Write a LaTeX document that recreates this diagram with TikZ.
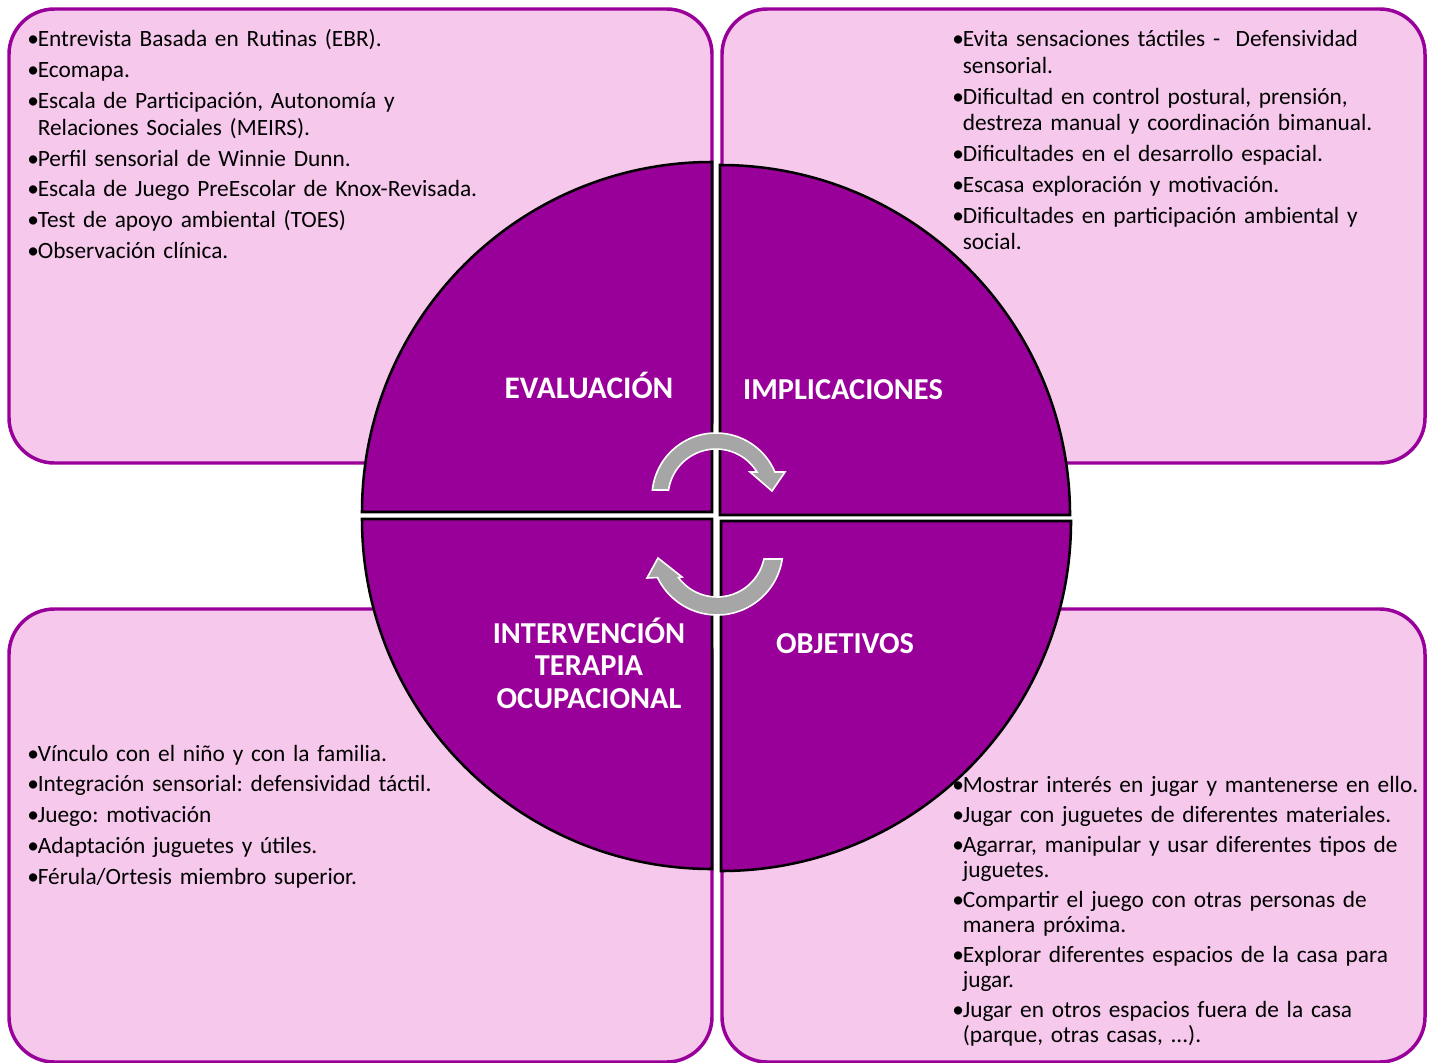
\documentclass[tikz,border=0pt]{standalone}
\usepackage{fontspec}
\setmainfont{Carlito}
\definecolor{qpurple}{RGB}{153,0,153}
\definecolor{boxpink}{RGB}{245,200,236}
\definecolor{arrowgray}{RGB}{166,166,166}
\newcommand{\bodyfont}{\fontsize{17.5}{19.7}\selectfont\frenchspacing\setlength{\parskip}{3.5pt}\raggedright}
\newcommand{\tightfont}{\fontsize{17.5}{18.75}\selectfont\frenchspacing\setlength{\parskip}{3.75pt}\raggedright}
\newcommand{\labelfont}{\fontsize{22.8}{25}\selectfont\bfseries}
\newcommand{\bitem}[1]{\par\noindent\hangindent=7.9pt\hangafter=1\makebox[7.9pt][l]{•}\strut#1\par}
\tikzset{
  infobox/.style={draw=qpurple, fill=boxpink, line width=2.6pt, rounded corners=34pt},
  quadrant/.style={draw=black, fill=qpurple, line width=1.9pt, line join=miter},
  cyclearrow/.style={fill=arrowgray, draw=white, line width=1.2pt},
  boxtext/.style={anchor=north west, inner sep=0pt, text width=410pt, font=\bodyfont},
  quadlabel/.style={anchor=base, inner sep=0pt, text=white, font=\labelfont},
}
\begin{document}
\begin{tikzpicture}[x=0.75pt,y=0.75pt]
\useasboundingbox (0,0) rectangle (1434,-1063);
% boxes
\draw[infobox] (9,-9) rectangle (712,-463);
\draw[infobox] (722,-9) rectangle (1425,-463);
\draw[infobox] (9,-609) rectangle (712,-1062);
\draw[infobox] (722,-609) rectangle (1425,-1062);
% quadrants
\filldraw[quadrant] (712,-512) -- ++(-350,0) arc[start angle=180,end angle=90,radius=350] -- cycle;
\filldraw[quadrant] (720,-515) -- ++(0,350) arc[start angle=90,end angle=0,radius=350] -- cycle;
\filldraw[quadrant] (712,-519) -- ++(-350,0) arc[start angle=180,end angle=270,radius=350] -- cycle;
\filldraw[quadrant] (721,-521) -- ++(350,0) arc[start angle=0,end angle=-90,radius=350] -- cycle;
% cycle arrows
\begin{scope}[shift={(716,-497)}]
\filldraw[cyclearrow] (173.7:64) arc[start angle=173.7,end angle=23,radius=64] -- (69,25) -- (56,6) -- (34,25) -- (31.4:48) arc[start angle=31.4,end angle=171.6,radius=48] -- cycle;
\end{scope}
\begin{scope}[shift={(717,-549)}]
\filldraw[cyclearrow] (-8.7:66) arc[start angle=-8.7,end angle=-154.4,radius=66] -- (-70,-29) -- (-59,-9) -- (-35,-28) -- (-143.6:48) arc[start angle=-143.6,end angle=-12,radius=48] -- cycle;
\end{scope}
% labels
\node[quadlabel, font=\fontsize{23.5}{25}\selectfont\bfseries] (eval) at (589,-398) {EVALUACIÓN};
\node[quadlabel] (impl) at (843,-399) {IMPLICACIONES};
\node[quadlabel] (intervA) at (589,-643) {INTERVENCIÓN};
\node[quadlabel] (intervB) at (589,-675) {TERAPIA};
\node[quadlabel] (intervC) at (589,-708) {OCUPACIONAL};
\node[quadlabel] (obj) at (845,-653) {OBJETIVOS};
% texts
\node[boxtext] (evaltext) at (27,-15.8) {%
\bitem{Entrevista Basada en Rutinas (EBR).}%
\bitem{Ecomapa.}%
\bitem{Escala de Participación, Autonomía y\newline Relaciones Sociales (MEIRS).}%
\bitem{Perfil sensorial de Winnie Dunn.}%
\bitem{Escala de Juego PreEscolar de Knox-Revisada.}%
\bitem{Test de apoyo ambiental (TOES)}%
\bitem{Observación clínica.}};
\node[boxtext] (impltext) at (952,-15.8) {%
\bitem{Evita sensaciones táctiles -\ \ Defensividad\newline sensorial.}%
\bitem{Dificultad en control postural, prensión,\newline destreza manual y coordinación bimanual.}%
\bitem{Dificultades en el desarrollo espacial.}%
\bitem{Escasa exploración y motivación.}%
\bitem{Dificultades en participación ambiental y\newline social.}};
\node[boxtext] (intervtext) at (27,-729.8) {%
\bitem{Vínculo con el niño y con la familia.}%
\bitem{Integración sensorial: defensividad táctil.}%
\bitem{Juego: motivación}%
\bitem{Adaptación juguetes y útiles.}%
\bitem{Férula/Ortesis miembro superior.}};
\node[boxtext, font=\tightfont] (objtext) at (952,-761.8) {%
\bitem{Mostrar interés en jugar y mantenerse en ello.}%
\bitem{Jugar con juguetes de diferentes materiales.}%
\bitem{Agarrar, manipular y usar diferentes tipos de\newline juguetes.}%
\bitem{Compartir el juego con otras personas de\newline manera próxima.}%
\bitem{Explorar diferentes espacios de la casa para\newline jugar.}%
\bitem{Jugar en otros espacios fuera de la casa\newline (parque, otras casas, ...).}};
\end{tikzpicture}
\end{document}
